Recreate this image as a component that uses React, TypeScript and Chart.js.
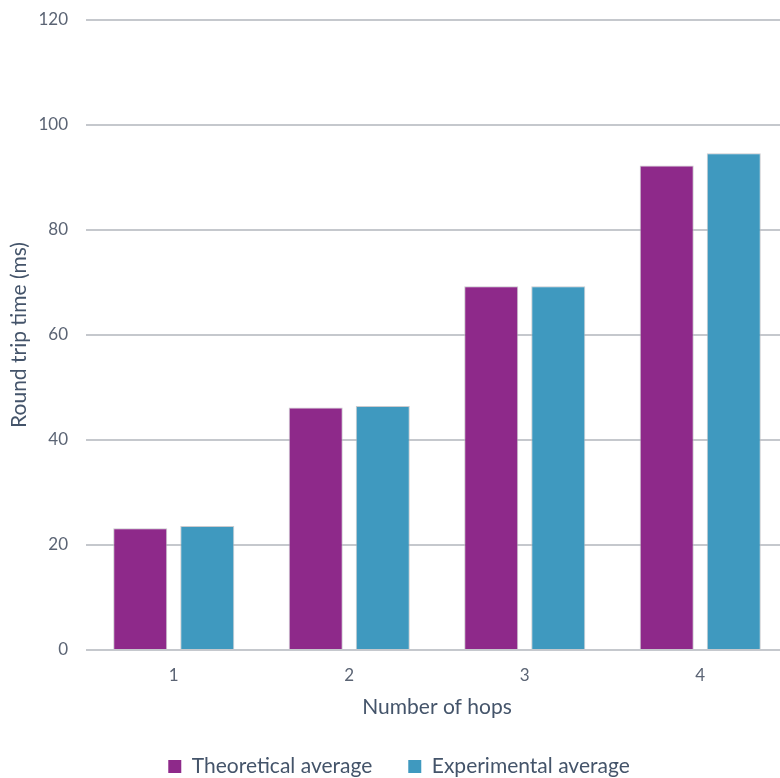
import React, { useEffect, useRef } from "react";
import { Chart, registerables } from "chart.js";

Chart.register(...registerables);

// Round trip time per number of hops
const hops = ["1", "2", "3", "4"];
const theoreticalAverage = [23.2, 46.2, 69.3, 92.3];
const experimentalAverage = [23.6, 46.5, 69.3, 94.6];
const yTicks = [0, 20, 40, 60, 80, 100, 120];

const FONT = "Lato, 'Open Sans', sans-serif";
const TICK_COLOR = "#5b6474";
const TEXT_COLOR = "#44546a";
const GRID_COLOR = "#c5c8cd";
const PURPLE = "#8e298a";
const BLUE = "#3f99bf";

export default function App() {
  const canvasRef = useRef<HTMLCanvasElement | null>(null);

  useEffect(() => {
    const canvas = canvasRef.current;
    if (!canvas) return;
    const chart = new Chart(canvas, {
      type: "bar",
      data: {
        labels: hops,
        datasets: [
          {
            label: "Theoretical average",
            data: theoreticalAverage,
            backgroundColor: PURPLE,
            borderColor: "rgba(185,185,190,0.75)",
            borderWidth: 1,
          },
          {
            label: "Experimental average",
            data: experimentalAverage,
            backgroundColor: BLUE,
            borderColor: "rgba(185,185,190,0.75)",
            borderWidth: 1,
          },
        ],
      },
      options: {
        responsive: false,
        maintainAspectRatio: false,
        animation: false,
        layout: { padding: { top: 20, right: 2, bottom: 0, left: 10 } },
        datasets: {
          bar: { categoryPercentage: 0.764, barPercentage: 0.806 },
        },
        plugins: {
          tooltip: { enabled: false },
          legend: {
            position: "bottom",
            labels: {
              boxWidth: 13,
              boxHeight: 13,
              padding: 36,
              color: TEXT_COLOR,
              font: { family: FONT, size: 21 },
              generateLabels: (c: any) =>
                Chart.defaults.plugins.legend.labels
                  .generateLabels(c)
                  .map((l: any) => ({ ...l, lineWidth: 0 })),
            },
          },
        },
        scales: {
          x: {
            grid: { display: false },
            border: { display: false },
            ticks: {
              padding: 7,
              color: TICK_COLOR,
              font: { family: FONT, size: 17 },
            },
            title: {
              display: true,
              text: "Number of hops",
              color: TEXT_COLOR,
              font: { family: FONT, size: 21 },
              padding: { top: 0, bottom: 0 },
            },
            afterFit: (s: any) => {
              s.height = 70;
            },
          },
          y: {
            min: 0,
            max: 120,
            afterBuildTicks: (s: any) => {
              s.ticks = yTicks.map((v) => ({ value: v }));
            },
            grid: {
              color: GRID_COLOR,
              lineWidth: 2,
              drawTicks: false,
            },
            border: { display: false },
            ticks: {
              padding: 18,
              color: TICK_COLOR,
              font: { family: FONT, size: 17 },
            },
            title: {
              display: true,
              text: "Round trip time (ms)",
              color: TEXT_COLOR,
              font: { family: FONT, size: 21, lineHeight: 0.9 },
              padding: { top: 0, bottom: 0 },
            },
            afterFit: (s: any) => {
              s.width = 76;
              s.paddingTop = 0;
              s.paddingBottom = 0;
            },
          },
        },
      },
    });
    return () => chart.destroy();
  }, []);

  return (
    <div
      style={{
        position: "fixed",
        left: 0,
        top: 0,
        width: 780,
        height: 778,
        overflow: "hidden",
        background: "#ffffff",
      }}
    >
      <canvas ref={canvasRef} width={790} height={787} style={{ display: "block" }} />
    </div>
  );
}
